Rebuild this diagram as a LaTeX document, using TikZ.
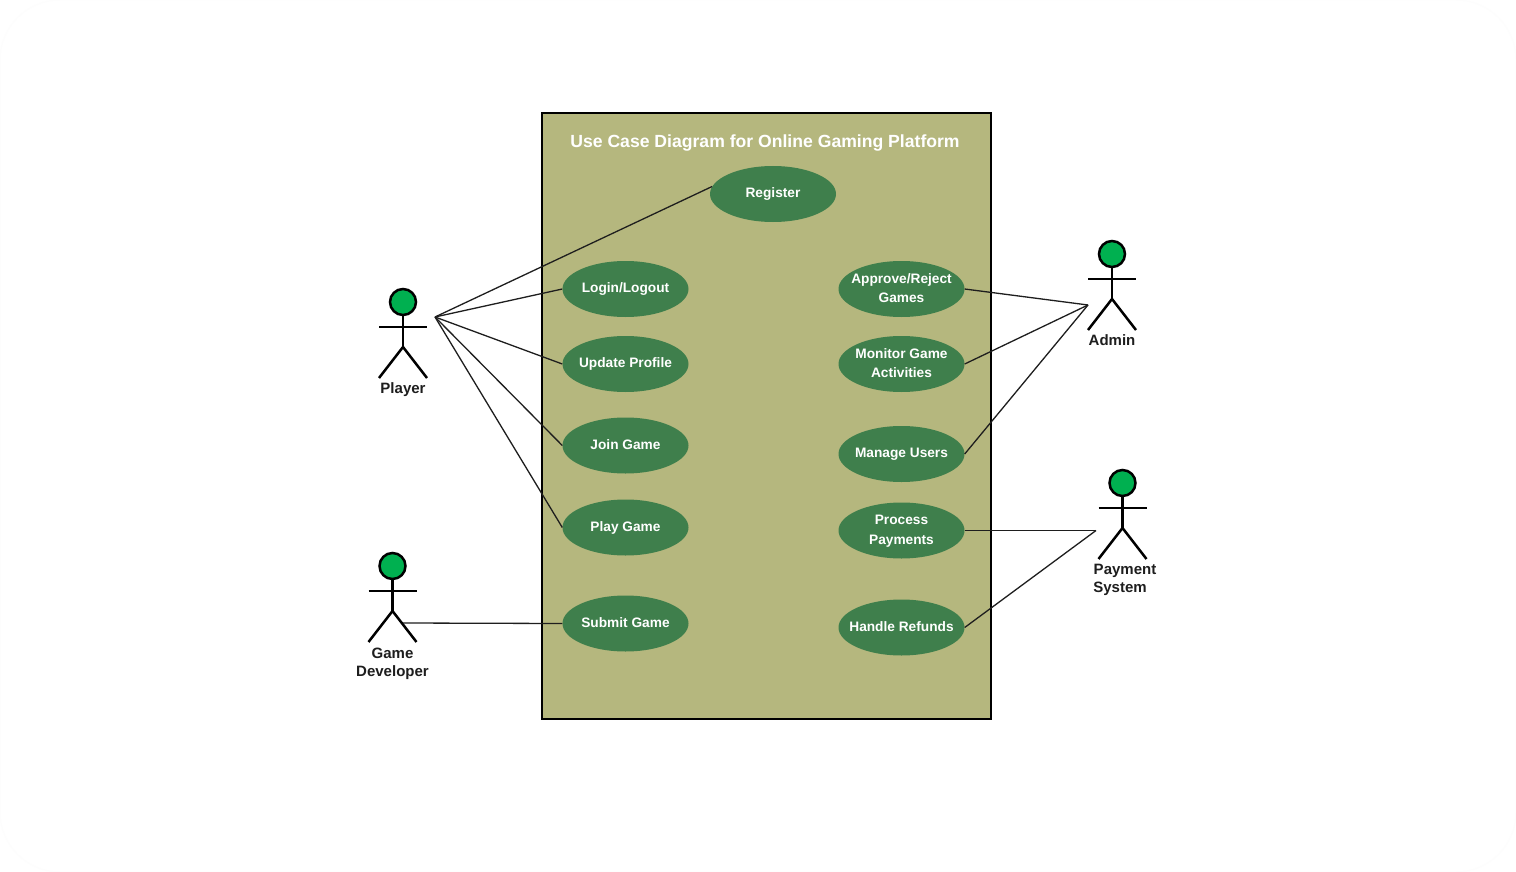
\documentclass[tikz,border=0pt]{standalone}
\usepackage{fontspec}
\setmainfont{Liberation Sans}
\definecolor{boxfill}{HTML}{B5B77E}
\definecolor{casefill}{HTML}{3F7F4C}
\definecolor{headfill}{HTML}{00B050}
\definecolor{inktext}{HTML}{1E1E1E}
\definecolor{pageedge}{HTML}{FDFDFD}
\usetikzlibrary{shapes.geometric}
\tikzset{
  pageframe/.style={draw=pageedge,line width=1pt,rounded corners=60pt},
  sysbox/.style={draw=black,line width=1.8pt,fill=boxfill},
  usecase/.style={ellipse,draw=none,fill=casefill,minimum width=126pt,minimum height=56pt,inner sep=0pt,text=white},
  titletext/.style={text=white,font=\fontsize{17.6}{22}\selectfont\bfseries},
  actorlabel/.style={text=inktext,align=center,font=\fontsize{15}{18}\selectfont\bfseries},
  assoc/.style={draw=inktext,line width=1.3pt},
  actorline/.style={draw=black,line width=2.5pt},
  actorhead/.style={circle,draw=black,line width=2.5pt,fill=headfill,minimum size=26pt,inner sep=0pt},
}
% use-case text takes no room, so that every ellipse keeps the same size
\newcommand{\uc}[2][-2.5pt]{\makebox[0pt][c]{\raisebox{#1}[0pt][0pt]{\parbox[c]{200pt}{\centering\fontsize{13.7}{19.5}\selectfont\bfseries #2}}}}
\newcommand{\stickman}[3]{% name, x, head y
  \node[actorhead] (#1head) at (#2,#3) {};
  \coordinate (#1hip) at (#2,#3+45);
  \coordinate (#1armL) at (#2-24,#3+25);
  \coordinate (#1armR) at (#2+24,#3+25);
  \coordinate (#1footL) at (#2-24,#3+76);
  \coordinate (#1footR) at (#2+24,#3+76);
  \draw[actorline] (#1head) -- (#1hip);
  \draw[actorline] (#1armL) -- (#1armR);
  \draw[actorline] (#1footL) -- (#1hip) -- (#1footR);
}
\begin{document}
\begin{tikzpicture}[x=1pt,y=-1pt]
\useasboundingbox (0,0) rectangle (1516,872);
\fill[white] (0,0) rectangle (1516,872);
\draw[pageframe] (0,0) rectangle (1516,872);
\draw[sysbox] (542,113) rectangle (991,719);
\node[titletext] (title) at (765,142.5) {Use Case Diagram for Online Gaming Platform};

\node[usecase] (reg) at (773,194) {\uc{Register}};
\node[usecase] (login) at (625.5,289) {\uc{Login/Logout}};
\node[usecase] (update) at (625.5,364) {\uc{Update Profile}};
\node[usecase] (join) at (625.5,445.5) {\uc[-1.5pt]{Join Game}};
\node[usecase] (play) at (625.5,527.5) {\uc{Play Game}};
\node[usecase] (submit) at (625.5,623.5) {\uc[-1.5pt]{Submit Game}};
\node[usecase] (approve) at (901.5,289) {\uc[-1.5pt]{Approve/Reject\\Games}};
\node[usecase] (monitor) at (901.5,364) {\uc[-1.5pt]{Monitor Game\\Activities}};
\node[usecase] (manage) at (901.5,454) {\uc{Manage Users}};
\node[usecase] (process) at (901.5,530.5) {\uc[-3pt]{Process\\Payments}};
\node[usecase] (refunds) at (901.5,627.5) {\uc[-1.5pt]{Handle Refunds}};

\stickman{pl}{403}{302}
\stickman{dv}{392.5}{566}
\stickman{ad}{1112}{254}
\stickman{pay}{1122.5}{483}

\node[actorlabel] (plabel) at (403,389.5) {Player};
\node[actorlabel] (dlabel) at (392.5,663.5) {Game\\Developer};
\node[actorlabel] (alabel) at (1112,340) {Admin};
\node[actorlabel] (slabel) at (1125,579.5) {Payment\\\hspace*{-10pt}System};

\coordinate (pa) at (435,317);
\coordinate (da) at (403,623);
\coordinate (aa) at (1088,305);
\coordinate (sa) at (1096,530.5);

\draw[assoc] (pa) -- (reg.173);
\draw[assoc] (pa) -- (login.west);
\draw[assoc] (pa) -- (update.west);
\draw[assoc] (pa) -- (join.west);
\draw[assoc] (pa) -- (play.west);
\draw[assoc] (da) -- (submit.west);
\draw[assoc] (aa) -- (approve.east);
\draw[assoc] (aa) -- (monitor.east);
\draw[assoc] (aa) -- (manage.east);
\draw[assoc] (sa) -- (process.east);
\draw[assoc] (sa) -- (refunds.east);
\end{tikzpicture}
\end{document}
